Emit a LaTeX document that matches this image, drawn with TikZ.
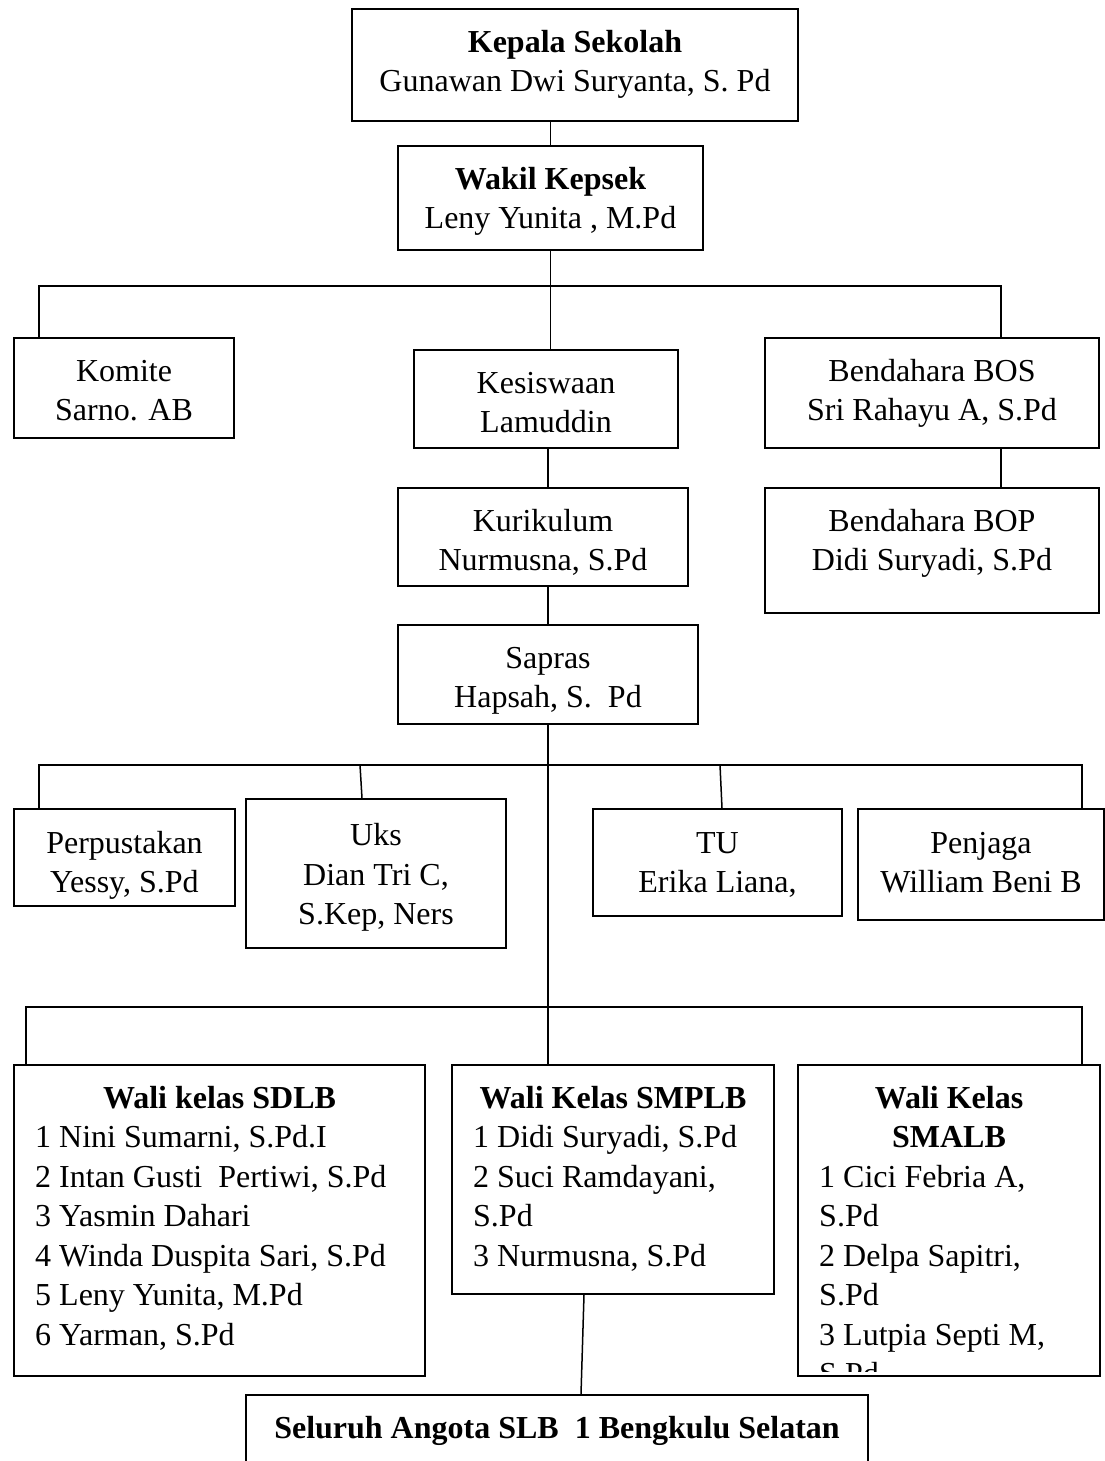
\documentclass[tikz,border=0pt]{standalone}
\usepackage{fontspec}
\setmainfont{Liberation Serif}
\newcommand{\fs}{\fontsize{32}{39.5}\selectfont}
\begin{document}
\begin{tikzpicture}[x=1pt,y=-1pt,
  box/.style={draw, line width=1.8pt, rectangle, inner sep=0pt},
  lbl/.style={anchor=north, inner sep=0pt, align=center, font=\fs},
  lst/.style={anchor=north west, inner sep=0pt, align=left, font=\fs},
  conn/.style={line width=1.5pt}]
\useasboundingbox (0,0) rectangle (1105,1461);
\clip (0,0) rectangle (1105,1461);

% ---------- boxes ----------
\node[box, minimum width=446pt, minimum height=112pt] (kepala) at (575,65) {};
\node[box, minimum width=305pt, minimum height=104pt] (wakil) at (550.5,198) {};
\node[box, minimum width=220pt, minimum height=100pt] (komite) at (124,388) {};
\node[box, minimum width=264pt, minimum height=98pt] (kesiswaan) at (546,399) {};
\node[box, minimum width=334pt, minimum height=110pt] (bos) at (932,393) {};
\node[box, minimum width=334pt, minimum height=125pt] (bop) at (932,550.5) {};
\node[box, minimum width=290pt, minimum height=98pt] (kurikulum) at (543,537) {};
\node[box, minimum width=300pt, minimum height=99pt] (sapras) at (548,674.5) {};
\node[box, minimum width=221pt, minimum height=97pt] (perpus) at (124.5,857.5) {};
\node[box, minimum width=260pt, minimum height=149pt] (uks) at (376,873.5) {};
\node[box, minimum width=249pt, minimum height=107pt] (tu) at (717.5,862.5) {};
\node[box, minimum width=246pt, minimum height=111pt] (penjaga) at (981,864.5) {};
\node[box, minimum width=411pt, minimum height=311pt] (sdlb) at (219.5,1220.5) {};
\node[box, minimum width=322pt, minimum height=229pt] (smplb) at (613,1179.5) {};
\node[box, minimum width=302pt, minimum height=311pt] (smalb) at (949,1220.5) {};
\node[box, minimum width=622pt, minimum height=85pt] (seluruh) at (557,1437.5) {};

% ---------- texts ----------
\node[lbl] (kepala-t) at (575,24.4) {\strut\textbf{Kepala Sekolah}\\Gunawan Dwi Suryanta, S. Pd};
\node[lbl] (wakil-t) at (550.5,161.4) {\strut\textbf{Wakil Kepsek}\\Leny Yunita , M.Pd};
\node[lbl] (komite-t) at (124,353.4) {\strut Komite\\Sarno. AB};
\node[lbl] (kesiswaan-t) at (546,365.4) {\strut Kesiswaan\\Lamuddin};
\node[lbl] (bos-t) at (932,353.4) {\strut Bendahara BOS\\Sri Rahayu A, S.Pd};
\node[lbl] (bop-t) at (932,503.4) {\strut Bendahara BOP\\Didi Suryadi, S.Pd};
\node[lbl] (kurikulum-t) at (543,503.4) {\strut Kurikulum\\Nurmusna, S.Pd};
\node[lbl] (sapras-t) at (548,640.4) {\strut Sapras\\Hapsah, S.~ Pd};
\node[lbl] (perpus-t) at (124.5,825.4) {\strut Perpustakan\\Yessy, S.Pd};
\node[lbl] (uks-t) at (376,818) {\strut Uks\\Dian Tri C,\\S.Kep, Ners};
\node[lbl] (tu-t) at (717.5,825.4) {\strut TU\\Erika Liana,};
\node[lbl] (penjaga-t) at (981,825.4) {\strut Penjaga\\William Beni B};

\node[lbl] (sdlb-t) at (219.5,1080.4) {\strut\textbf{Wali kelas SDLB}};
\node[lst] (sdlb-l) at (35,1119.9) {\strut 1 Nini Sumarni, S.Pd.I\\2 Intan Gusti~ Pertiwi, S.Pd\\3 Yasmin Dahari\\4 Winda Duspita Sari, S.Pd\\5 Leny Yunita, M.Pd\\6 Yarman, S.Pd};

\node[lbl] (smplb-t) at (613,1080.4) {\strut\textbf{Wali Kelas SMPLB}};
\node[lst] (smplb-l) at (473,1119.9) {\strut 1 Didi Suryadi, S.Pd\\2 Suci Ramdayani,\\S.Pd\\3 Nurmusna, S.Pd};

\node[lbl] (smalb-t) at (949,1080.4) {\strut\textbf{Wali Kelas}\\\textbf{SMALB}};
\begin{scope}
  \clip (800,1066) rectangle (1098,1371);
  \node[lst] (smalb-l) at (819,1159.4) {\strut 1 Cici Febria A,\\S.Pd\\2 Delpa Sapitri,\\S.Pd\\3 Lutpia Septi M,\\S.Pd};
\end{scope}

\node[lbl] (seluruh-t) at (557,1410.4) {\strut\textbf{Seluruh Angota SLB~ 1 Bengkulu Selatan}};

% ---------- connectors ----------
\coordinate (trunk) at (548,0);
\draw[conn] (kepala.south -| wakil.north) -- (wakil.north);
\draw[conn] (wakil.south) -- (wakil.south |- kesiswaan.north);
\coordinate (b1L) at (39,286);
\coordinate (b1R) at (1001,286);
\draw[conn] (b1L |- komite.north) -- (b1L) -- (b1R) -- (b1R |- bos.north);
\draw[conn] (kesiswaan.south -| trunk) -- (kurikulum.north -| trunk);
\draw[conn] (bos.south -| b1R) -- (bop.north -| b1R);
\draw[conn] (kurikulum.south -| trunk) -- (sapras.north -| trunk);
\coordinate (b3) at (548,1007);
\draw[conn] (sapras.south -| trunk) -- (b3);
\coordinate (b2L) at (39,765);
\coordinate (b2R) at (1082,765);
\draw[conn] (b2L |- perpus.north) -- (b2L) -- (b2R) -- (b2R |- penjaga.north);
\coordinate (u1) at (360,765);
\coordinate (u2) at (362,0);
\draw[conn] (u1) -- (uks.north -| u2);
\coordinate (v1) at (720,765);
\coordinate (v2) at (722,0);
\draw[conn] (v1) -- (tu.north -| v2);
\coordinate (b3L) at (26,1007);
\coordinate (b3R) at (1082,1007);
\draw[conn] (b3L |- sdlb.north) -- (b3L) -- (b3R) -- (b3R |- smalb.north);
\draw[conn] (b3) -- (smplb.north -| trunk);
\coordinate (s1) at (584,0);
\coordinate (s2) at (581,0);
\draw[conn] (smplb.south -| s1) -- (seluruh.north -| s2);
\end{tikzpicture}
\end{document}
